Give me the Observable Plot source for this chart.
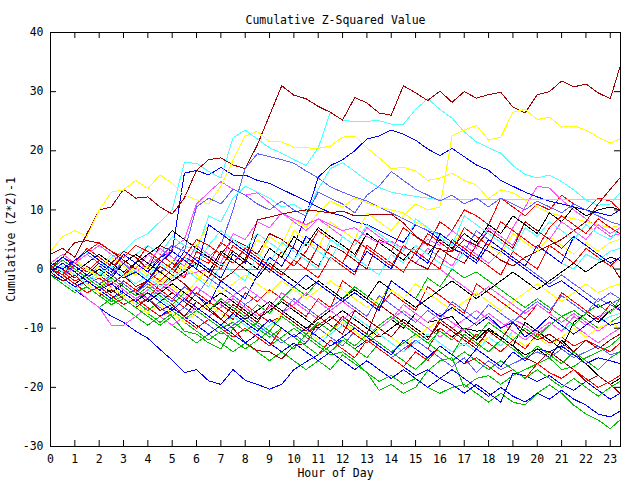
<!DOCTYPE html>
<html><head><meta charset="utf-8">
<script src="https://cdn.jsdelivr.net/npm/d3@7"></script>
<script src="https://cdn.jsdelivr.net/npm/@observablehq/plot@0.6"></script>
<style>body{margin:0;background:#fff}</style>
</head><body><div id="chart"></div>
<script>
const hours = [0,0.5,1,1.5,2,2.5,3,3.5,4,4.5,5,5.5,6,6.5,7,7.5,8,8.5,9,9.5,10,10.5,11,11.5,12,12.5,13,13.5,14,14.5,15,15.5,16,16.5,17,17.5,18,18.5,19,19.5,20,20.5,21,21.5,22,22.5,23,23.4];
const xTicks = [0,1,2,3,4,5,6,7,8,9,10,11,12,13,14,15,16,17,18,19,20,21,22,23];
const yTicks = [-30,-20,-10,0,10,20,30,40];

const dr1 = [2.5,3.5,2,6,10,10.5,13.5,12, 12.2,10.5,9.3,12,16.7,18.5,18.8,17.6, 17,21,26,31,29.4,28.8,27.5,26.5, 25.2,29,28.1,26.4,26,31,29.8,28.5, 30.1,28.2,30,28.9,29.5,29.9,27.4,26.4, 29.5,30,31.8,30.8,31.3,29.8,28.8,34.2];
const dr2 = [0.5,-0.5,1.5,0,-1.5,1,3,2, 0,4,3,1.5,0,-1.5,2.5,5, 4,2.5,6,5,3.5,2,0.5,4, 3,1.5,0,5,4,2.5,1,0, 3.5,2,1,4,3,1.5,0.5,2, 3,4,5,6.5,8,11,13.5,15.4];
const dr3 = [0,2,4.5,4.8,4.4,3,1.5,0, -1.5,-3,-1,-2.5,-4.5,-6.5,-8.5,-10, -12.5,-13.8,-14,-15.2,-13,-12.5,-9,-10.5, -8,-9.5,-11,-6,-7.5,-9,-10.5,-12, -9,-10.5,-12,-13.5,-10,-11.5,-13,-15, -16,-14,-15.5,-17,-19,-18,-19.5,-21];
const dr4 = [1,0,-1.5,0.5,-1,-2.5,-1,-3, -2,0.5,-1,2,1,-0.5,-2,-0.5, 1.5,8.3,8.8,9.3,9.7,10,9.8,9.5, 9.8,9,9.1,9.3,9.3,7.8,5.6,4.2, 3.3,2.9,5,4,6.5,5,3.5,8, 6.5,5,3.5,5.5,4,2.5,1,-1.5];
const dr5 = [-0.5,-2,-1,-3,-4.5,-3.5,-5,-6.5, -5,-7,-6,-8,-5.5,-7,-8.5,-6, -7.5,-9,-6,-7.5,-9,-10.5,-8,-9.5, -11,-7,-8.5,-10,-11.5,-9,-10.5,-12, -8.5,-10,-11.5,-13,-10.5,-12,-9,-10.5, -12,-11,-12.5,-14,-12,-13.5,-12,-11];

const r1 = [0,-1.5,1,3.5,2,0.5,-1,1, 4,2.5,1,-0.5,2,1,4.5,3, 1.5,5,3.5,2,0.5,3,6.5,5, 3.5,2,6,4.5,3,7,5.5,4, 8,6.5,10,9,7.5,12,10.5,9, 11,10,12.5,11,10,12,11.5,10];
const r2 = [1,-0.5,-2,-1,-2.5,-4,-2,-3.5, -5,-2.5,-4,-5.5,-3,-4.5,-6,-7.5, -4,-5.5,-3.5,-5,-6.5,-8,-5,-6.5, -2,-3.5,-5,-6.5,-4,-5.5,-7,-3, -4.5,-6,-7.5,-2.5,-4,-5.5,-7,-8.5, -6,-7.5,-4,-5.5,-7,-8.5,-6,-7];
const r3 = [-1,0.5,-1,-2.5,-1.5,-3,-4.5,-3.5, -2,-3.5,-5,-6.5,-4,-5.5,-7,-8.5, -6,-7.5,-9,-8,-9.5,-11,-9.5,-8, -9.5,-11,-12.5,-11,-12.5,-14,-12,-13.5, -10,-11.5,-13,-11,-12.5,-14,-12,-13.5, -11,-12.5,-11.5,-13,-12,-13,-14,-12.5];
const r4 = [0,2,1,-0.5,1.5,0,2.5,1, -0.5,-2,0,-1.5,3,1.5,0,4, 2.5,1,-0.5,3,1.5,0,-1.5,2, 0.5,-1,4,2.5,1,-0.5,3,1.5, 0,5,3.5,2,0.5,-1,3,1.5, 0,4,2.5,1,3.5,2,0.5,2];
const r5 = [0.5,-1,-2.5,-4,-3,-4.5,-6,-5, -6.5,-8,-7,-8.5,-10,-8.5,-10,-11.5, -10,-11.5,-13,-10,-11.5,-13,-14.5,-12, -13.5,-15,-12,-13.5,-15,-16.5,-14,-15.5, -13,-14.5,-16,-15,-16.5,-18,-17,-18.5, -16,-17.5,-18.5,-17,-18.5,-20,-19,-18];
const r6 = [0,-1,1.5,3,4.5,3,2,4, 3,1.5,0,2,5,4,2.5,1, 3.5,2,0.5,-1,1.5,0,4,2.5, 1,5,3.5,2,0.5,4,2.5,6, 4.5,3,7,5.5,4,8,6.5,5, 3.5,7,9,7.5,6,8.5,7,6];

const g1 = [-0.5,-2,-3.5,-5,-6.5,-5,-6.5,-8, -9.5,-8,-9.5,-11,-12.5,-11,-12.5,-14, -12.5,-14,-15.5,-14,-15.5,-17,-15.5,-17, -14.5,-16,-17.5,-19,-18,-19.5,-18.5,-20, -21,-20,-19.5,-21,-22.5,-21,-22.5,-23, -21,-19.6,-21,-23,-24.5,-25.5,-27,-25.5];
const g2 = [0,-1.5,-3,-2,-3.5,-5,-4,-5.5, -7,-5.5,-7,-8.5,-10,-8.5,-10,-11.5, -10,-11.5,-13,-11.5,-10,-11.5,-13,-14.5, -14,-15.5,-17.5,-20.5,-19.5,-21,-20,-17.2, -15.5,-15,-20,-18.5,-18,-19.5,-18,-17, -16,-15,-17,-16.5,-15,-14,-13,-11.5];
const g3 = [1,-0.5,0.5,-1,-2.5,-1.5,-3,-4.5, -3,-4.5,-6,-4,-5.5,-7,-5,-6.5, -8,-6,-7.5,-5,-3,-4.5,-2,-3.5, -5,-3,-4.5,-6,-2,-3.5,-5,-1.5, -3,0,-1.5,-0.5,-2,-3.5,-5,-6.5, -5,-6.5,-8,-7,-8.5,-10,-9,-8];
const g4 = [-0.5,-2,-1,-2.5,-4,-5.5,-4.5,-6, -7.5,-9,-7.5,-9,-10.5,-12,-10.5,-12, -13.5,-12,-10.5,-12,-13.5,-11,-12.5,-14, -12,-13.5,-15,-12.5,-14,-15.5,-17,-15, -13,-14.5,-11,-12.5,-14,-12,-13.5,-15, -13,-14.5,-16,-14,-15.5,-17,-15,-14];
const g5 = [0,1.5,0,-1.5,-3,-2,-3.5,-5, -4,-5.5,-7,-8.5,-7,-8.5,-10,-9, -10.5,-9,-10.5,-8,-9.5,-11,-9,-10.5, -8.5,-10,-11.5,-9.5,-8,-9.5,-11,-12.5, -10.5,-12,-10,-11.5,-9,-10.5,-12,-10, -11.5,-9.5,-8,-9.5,-7.5,-6,-7.5,-5];
const g6 = [-1,-2.5,-4,-3,-4.5,-6,-5,-6.5, -8,-9.5,-8,-10.5,-11,-12.5,-13.5,-10, -8.5,-10,-11.5,-10,-11.5,-13,-14.5,-13, -11.5,-13,-11,-12.5,-14,-12.5,-11,-12.5, -14,-15.5,-14,-15.5,-17,-15.5,-17,-18.5, -17,-18.5,-20,-18.5,-20,-21.5,-20,-19];

const b1 = [1,2.5,1,-0.5,1.5,0,-1.5,1, -0.5,2,3,16.2,16.7,15.9,17.2,15.9, 15.9,15,14.5,13.5,12.5,11.5,10.5,9.5, 9,8,7.5,6.5,5.5,4.5,7.5,6.5, 5,3.5,2.5,1,4,3,1.5,0, -1.5,-3,-2,-3.5,-5,-6.5,-5.5,-7];
const b2 = [0.5,-1,-2.5,-1,0.5,-1,-2.5,-4, -2,-3.5,-5,-3,-4.5,-6,-2,-3.5, -5,-1,2,0.5,4,9,15.5,17.5, 18.5,20,22,22.5,23.5,22.8,21.8,20.3, 19.2,20.4,19,17.6,16.7,15,14,13, 12.2,11.5,11,10.5,10,9.5,9,10];
const b3 = [-1,-2,-3.5,-5,-6.5,-8,-9,-10.5, -11.7,-13.6,-15.4,-17.5,-17,-18.9,-19.5,-17, -18.8,-19.5,-20.3,-19.5,-17,-15.7,-14.5,-13, -12,-13.5,-12,-13.5,-15,-16.5,-18,-17, -18.5,-17,-18.5,-20,-21.5,-20,-21.5,-22.5, -21,-22,-20.5,-22,-23,-24.5,-25,-24];
const b4 = [0,-1.5,-3,-2,-3.5,-5,-3.5,-5, -6.5,-8,-6.5,-8,-9.5,-11,-9.5,-11, -12.5,-11,-12.5,-14,-12.5,-14,-15.5,-14, -15.5,-17,-15.5,-17,-18.5,-17,-18.5,-20, -18.5,-19.5,-21,-19.5,-21,-22.5,-17.6,-18, -19,-18,-19.5,-20.5,-19,-20.5,-22,-21];
const b5 = [0.5,2,0.5,-1,1,-0.5,2.5,1, -0.5,1.5,0,3,1.5,0,-1.5,2.5, 1,6,4.5,3,1.5,5.5,4,2.5, 1,-0.5,3,1.5,0,4,2.5,1, 6,4.5,3,1.5,5,3.5,2,0.5, 4,2.5,1,5.5,4,2.5,1,2];
const b6 = [-0.5,1,-0.5,-2,-3.5,-2.5,-4,-5.5, -4,-5.5,-7,-5,-6.5,-8,-9.5,-7.5, -9,-10.5,-8.5,-10,-11.5,-10,-11.5,-13, -11.5,-10,-11.5,-13,-14.5,-12,-13.5,-15, -13,-14.5,-16,-13.5,-15,-16.5,-14,-15.5, -13.5,-14,-13,-14.5,-16,-15,-15.5,-16];
const b7 = [1,0,1.5,3,1.5,0,-1.5,-0.5, -2,1,3,1.5,0,7.5,6,4.5, 3,1.5,0,-1.5,-3,-1,-2.5,-4, -5.5,-4,-5.5,-7,-2,-3.5,-5,-6.5, -8,-6.5,-8,-9.5,-8,-10,-9,-11.5, -10,-8,-9.5,-11,-9.5,-8,-9.5,-9];

const lb1 = [0,1.5,0,-1.5,0.5,-1,1,-0.5, -2,-0.5,1,4,3,2,4,10, 17,19.5,19,18.5,17.9,16.6,15.4,13.9, 13,12.2,11.5,10.5,9.5,8.5,7.5,6.5, 6,4.5,3,6.5,5,3.5,2,0.5, -1,-2.5,-1,-2.5,-4,-5.5,-4,-5];
const lb2 = [1,-0.5,1,2.5,1,-0.5,1,-1, 0.5,2,4,3,10.5,12,11,13.5, 12.5,11,10,11.5,10,9,13,12, 11,9.5,12.5,14,16.5,15,13.5,12.5, 11.5,12.5,11,12,10.5,12,11,10, 11.5,10.5,9.5,11,10,9,8,7.5];
const lb3 = [-0.5,-2,-1,-2.5,-4,-3,-4.5,-6, -5,-6.5,-8,-6.5,-8,-9.5,-11,-9.5, -8,-9.5,-11,-12.5,-11,-12.5,-10,-11.5, -13,-10.5,-12,-13.5,-15,-13.5,-12,-13.5, -15,-16.5,-15,-17.5,-15.5,-17,-16,-15, -14,-15,-13.5,-15,-14,-13,-14.5,-14];
const lb4 = [0.5,-1,0.5,-1,-2.5,-1,-2.5,-4, -2.5,-4,-5.5,-3,-4.5,-1.5,-3,-4.5, -6,-4.5,-6,-7.5,-5,-6.5,-8,-6.5, -5,-6.5,-8,-4.5,-6,-7.5,-9,-7, -8.5,-5.5,-7,-8.5,-6,-7.5,-9,-7, -5.5,-7,-4.5,-6,-7.5,-5,-6,-5];

const m1 = [0,-1.5,0.5,-1,-2.5,-1,1.5,0, 2.5,1,3.5,5,11,13,14.8,13.5, 12.5,12.9,11.2,9.5,8,6.5,8.5,7, 5.5,4,7,5.5,4,2.5,1,3.5, 2,0.5,4,2.5,1,3,7,10.5, 14,13.7,11.7,10,8.5,7,5.5,6];
const m2 = [0.5,-1,-2.5,-1,-2.5,-4,-2.5,-4, -5,-3.5,-2,-1,-0.5,0,0,0, 0,0,0,0,0,0,0,0, 0,0,0,0,0,0,0,0, 0,-1.5,-3,-4.5,-3,-4.5,-6,-7.5, -6,-7.5,-9,-7.5,-9,-10.5,-9,-10];
const m3 = [0,-1.5,-3,-5,-6.5,-9.5,-9.5,-8, -6.5,-8,-9.5,-8,-6.5,-8,-6.5,-5, -6.5,-8,-6.5,-4,-5.5,-7,-8.5,-7, -5.5,-7,-8.5,-10,-8.5,-7,-8.5,-10, -11.5,-10,-8.5,-7,-8.5,-10,-8.5,-9.5, -11,-9.5,-8,-9.5,-11,-12.5,-11,-10];
const m4 = [1,2.5,1,2.5,4,2.5,1,-0.5, 1,3.5,2,0.5,4,2.5,1,6, 5,8,7,9.5,8.5,7.5,8.5,7.5, 6.5,7,5.5,4.4,4.7,3.5,3.2,5, 4,6.5,5,3.5,7,5.5,4,8, 6.5,5,8,6.5,5,7.5,6,7];
const m5 = [-0.5,1,-0.5,-2,-3.5,-2,-3.5,-5, -3.5,-2,-3.5,-5,-3,-4.5,-6,-4.5, -3,-4.5,-6,-7.5,-6,-4,-5.5,-7, -8.5,-7,-8.5,-10,-8.5,-6,-7.5,-9, -7.5,-9,-10.5,-9,-7.5,-9,-10.5,-12, -10.5,-9,-10.5,-8,-9.5,-8,-7,-6.5];

const c1 = [0,-1,1,0,-1,2,3,5, 6,8,10,18,17.9,16.5,15.4,22.2, 23.5,22,20.5,19.6,18.5,17.5,20.5,26.5, 25.2,24.9,25,25.1,24.5,24.5,27,28.8, 27,25.5,23.2,21.5,20.5,19.6,17.5,16, 15.4,15.9,14.8,13.4,11.7,10.8,11,12.9];
const c2 = [0,1.5,0,-1.5,0,2.5,1,2.5, 4,2.5,5.5,4,3,9,8,12, 14,13,12,10.5,11,9.5,13.5,17, 18,16.5,15,13.8,13,12.6,12.3,12, 11.7,11.7,11.7,11.7,11.7,11.7,11.7,11.7, 11.7,11.7,11.7,11.7,11.7,11.7,11.7,11.7];
const c3 = [-0.5,-2,-3.5,-2,-0.5,-2,-3.5,-5, -3.5,-5,-6.5,-5,-6.5,-8,-9.5,-8, -9.5,-11,-9.5,-8,-9.5,-11,-12.5,-11, -9.5,-8,-9.5,-11,-12.5,-14,-12.5,-11, -12.5,-14,-12.5,-14,-11.5,-13,-10.5,-12, -10.5,-9,-10.5,-9,-7.5,-9,-8,-7.5];
const c4 = [1,-0.5,1,3,1.5,0,-1.5,0, -1.5,-3,-1.5,0,-1.5,-3,1,-0.5, -2,2.5,1,4.5,3,1.5,0,5, 3.5,2,0.5,-1,2.5,1,4,2.5, 1,0,3,1.5,5,3.5,2,0.5, 4,2.5,1,0,2.5,1.5,3,3.5];
const c5 = [-1,0.5,-1,-2.5,-1,0.5,-1,-2.5, -1,1,-0.5,2,0.5,4,6.5,5, 3.5,6,4.5,3,1.5,4.5,3,1.5, 5.5,4,7.5,6,4.5,3,8.5,7, 5.5,4,9,7.5,6,4.5,3,7, 5.5,8,6.5,5,7.5,6,5,7];

const y1 = [3,5.5,6.5,5.5,10,13,13.4,15, 13.6,15.9,14.5,12.5,11.7,11,14,18.4, 22.5,23.3,21.5,21.5,20.6,20.5,20.4,20.8, 22.3,22.5,20.5,18.8,17,17.2,16.6,15, 15.4,16.2,15,14.2,11.9,13.4,12.9,11.7, 10.5,9.5,9,8.5,8,7.5,7,7.4];
const y2 = [0,-1.5,0,-1.5,-3,-1.5,-3,-4.5, -3,-1.5,-3,-4.5,-2,0,-1.5,3, 1.5,5,3.5,2,6.5,5,3.5,8, 6.5,5,9.5,8,6.5,9,11,10, 10.5,22.5,23.5,24.3,21.8,22.3,26.5,27, 25.3,25.7,24,24.2,23.5,22.3,21.3,22];
const y3 = [0.5,2,0.5,-1,0.5,2,0.5,-1, 0.5,-1,1.5,0,4,7.5,6,4.5, 3,1.5,5.5,4,8.5,7,9.5,11.5, 10.5,12,11.2,10.5,10,9.5,8,7, 5.5,4,7,5.5,4,2.5,6,4.5, 3,5.5,4,2.5,4.5,3,4.5,5];
const y4 = [-0.5,-2,-1,-2.5,-4,-3,-4.5,-6, -7.5,-6,-7.5,-9,-7.5,-6,-7.5,-9, -10.5,-9,-10.5,-7.5,-9,-10.5,-12,-10.5, -9,-10.5,-12,-10,-11.5,-13,-11.5,-10, -8.5,-10,-11.5,-13,-11.5,-10,-11.5,-13, -11.5,-13,-11.5,-10,-11.5,-10,-9,-10];
const y5 = [1,0,1.5,0,-1.5,0,-1.5,0.5, -1,-2.5,-1,0.5,-1,-2.5,-4,-2.5, -1,-2.5,-4,-2,-3.5,-5,-3.5,-2, -3.5,-5,-6.5,-5,-3.5,-5,-2.5,-4, -5.5,-7,-5.5,-4,-5.5,-7,-5.5,-4, -2.5,-4,-5.5,-4,-2.5,-4,-3,-2.5];

const k1 = [0,-1.5,-3,-2,-3.5,-5,-4,-5.5, -7,-5.5,-4,-5.5,-7,-5.5,-4,-5.5, -7,-8.5,-7,-5.5,-7,-8.5,-10,-8.5, -7,-8.5,-10,-11.5,-10,-8.5,-10,-11.5, -10,-11.5,-10,-10.5,-10.3,-11.5,-13,-14.5, -13.5,-15,-12,-14,-16,-18,-19.5,-18.5];
const k2 = [-0.5,1,-0.5,1,2.5,1,-0.5,1, 2.5,4,6.5,5,3.5,2,0.5,3, 1.5,0,3.5,2,5.5,4,7,5.5, 4,2.5,6,4.5,3,1.5,4,2.5, 5,3.5,6,4.5,7.5,6,9,7.5, 6,9.5,8,10.5,9,10,10.5,10];
const k3 = [0.5,-1,-2.5,-1,-2.5,-4,-2.5,-4, -5.5,-4,-2.5,-4,-5.5,-7,-5.5,-7, -8.5,-7,-5.5,-7,-8.5,-10,-8.5,-7, -8.5,-10,-11.5,-10,-8.5,-10,-7.5,-9, -8.6,-8,-10.5,-12,-10,-11.5,-13,-9, -10.5,-12,-13.5,-9,-7.5,-9,-7,-6];
const k4 = [0,1.5,0,-1.5,0,-1.5,1,2.5, 1,-0.5,-2,-0.5,1,-0.5,3,1.5, 0,-1.5,1,-0.5,-2,-3.5,-2,-3.5, -5,-3.5,-5,-2,-3.5,-5,-6.5,-5, -3.5,-2,-3.5,-5,-3.5,-2,-0.5,-2, -3.5,-2,-0.5,1,-0.5,1,2,1.5];

const palette = {red:"#ff0000", green:"#00c000", blue:"#0000ff", magenta:"#ff50ff", cyan:"#50ffff", darkred:"#a00000", yellow:"#ffff00", black:"#000000", lightblue:"#6060ff"};
const series = [
  ["r1",r1,"red"],["g1",g1,"green"],["b1",b1,"blue"],["m1",m1,"magenta"],["c1",c1,"cyan"],["dr1",dr1,"darkred"],["y1",y1,"yellow"],["k1",k1,"black"],["lb1",lb1,"lightblue"],
  ["r2",r2,"red"],["g2",g2,"green"],["b2",b2,"blue"],["m2",m2,"magenta"],["c2",c2,"cyan"],["dr2",dr2,"darkred"],["y2",y2,"yellow"],["k2",k2,"black"],["lb2",lb2,"lightblue"],
  ["r3",r3,"red"],["g3",g3,"green"],["b3",b3,"blue"],["m3",m3,"magenta"],["c3",c3,"cyan"],["dr3",dr3,"darkred"],["y3",y3,"yellow"],["k3",k3,"black"],["lb3",lb3,"lightblue"],
  ["r4",r4,"red"],["g4",g4,"green"],["b4",b4,"blue"],["m4",m4,"magenta"],["c4",c4,"cyan"],["dr4",dr4,"darkred"],["y4",y4,"yellow"],["k4",k4,"black"],["lb4",lb4,"lightblue"],
  ["r5",r5,"red"],["g5",g5,"green"],["b5",b5,"blue"],["m5",m5,"magenta"],["c5",c5,"cyan"],["dr5",dr5,"darkred"],["y5",y5,"yellow"],
  ["r6",r6,"red"],["g6",g6,"green"],["b6",b6,"blue"],["b7",b7,"blue"]
];
const rows = series.flatMap(([id, vals, col]) =>
  hours.slice(0, vals.length).map((h, i) => ({id, h, v: vals[i], color: palette[col]})));

const chart = Plot.plot({
  width: 640, height: 480,
  marginLeft: 50, marginRight: 20, marginTop: 32, marginBottom: 34,
  style: {fontFamily: "'DejaVu Sans Mono', monospace", fontSize: "11.5px", background: "#fff", color: "#000"},
  x: {domain: [0, 23.42]},
  y: {domain: [-30, 40]},
  color: {type: "identity"},
  marks: [
    Plot.line(rows, {x: "h", y: "v", z: "id", stroke: "color", strokeWidth: 1, clip: true, shapeRendering: "crispEdges"}),
    Plot.frame({stroke: "#000", strokeWidth: 1}),
    Plot.tickX(xTicks, {x: d => d, insetTop: 408, stroke: "#000"}),
    Plot.tickX(xTicks, {x: d => d, insetBottom: 408, stroke: "#000"}),
    Plot.tickY(yTicks, {y: d => d, insetRight: 564, stroke: "#000"}),
    Plot.tickY(yTicks, {y: d => d, insetLeft: 564, stroke: "#000"}),
    Plot.axisX({ticks: xTicks, tickSize: 0, tickPadding: 8, tickFormat: d => String(d), label: "Hour of Day", labelAnchor: "center", labelArrow: "none", labelOffset: 30}),
    Plot.axisY({ticks: yTicks, tickSize: 0, tickPadding: 7, tickFormat: d => String(d), label: "Cumulative (Z*Z)-1", labelAnchor: "center", labelArrow: "none", labelOffset: 44}),
    Plot.text(["Cumulative Z-Squared Value"], {frameAnchor: "top", dy: -17})
  ]
});
document.getElementById("chart").appendChild(chart);
</script>
</body></html>
